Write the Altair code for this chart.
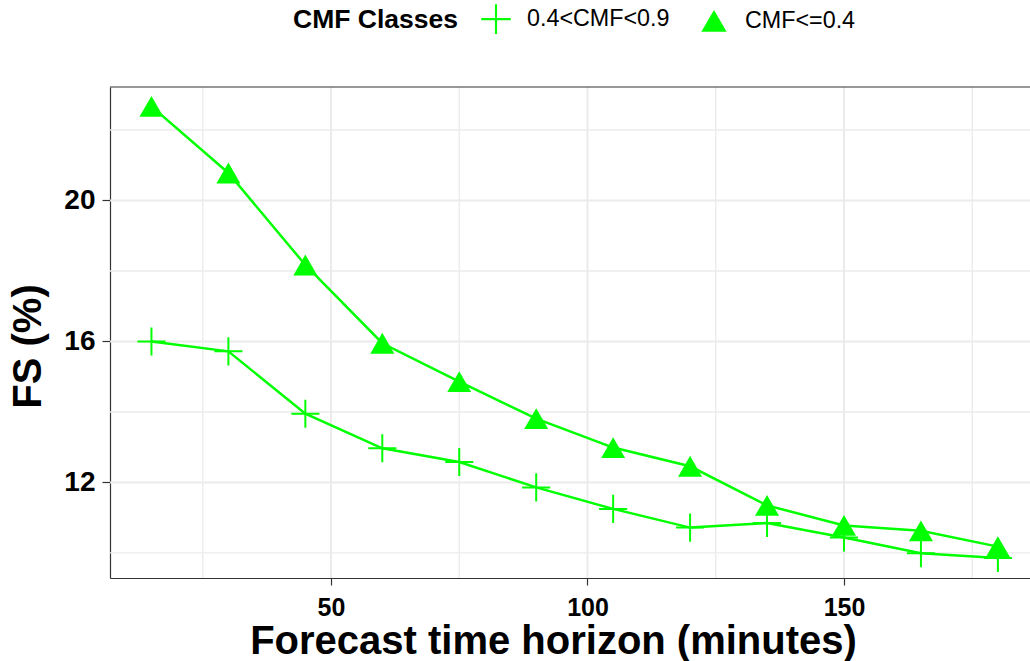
import altair as alt
import pandas as pd

horizons = [15, 30, 45, 60, 75, 90, 105, 120, 135, 150, 165, 180]
fs_mid = [16.0, 15.72, 13.95, 12.97, 12.58, 11.86, 11.25, 10.72, 10.85, 10.44, 9.99, 9.86]
fs_low = [22.67, 20.78, 18.17, 15.95, 14.86, 13.81, 12.99, 12.46, 11.35, 10.78, 10.63, 10.18]
classes = ["0.4<CMF<0.9", "CMF<=0.4"]
x_major = [50, 100, 150]
x_minor = [25, 75, 125, 175]
y_major = [12, 16, 20]
y_minor = [10, 14, 18, 22]

rows = []
for h, v in zip(horizons, fs_mid):
    rows.append({"h": h, "fs": v, "cls": classes[0]})
for h, v in zip(horizons, fs_low):
    rows.append({"h": h, "fs": v, "cls": classes[1]})
df = pd.DataFrame(rows)

XDOM = [6.92, 186.26]
YDOM = [9.29, 23.22]
GREEN = "#00FF00"
GRID = "#EBEBEB"
BORDER = "#333333"
FONT = "Liberation Sans"

xscale = alt.Scale(domain=XDOM, nice=False, zero=False)
yscale = alt.Scale(domain=YDOM, nice=False, zero=False)

# thin plus drawn as a filled outline so that it also shows in the legend
plus_path = "M-1.17,-0.083H1.17V0.083H-1.17Z M-0.083,-1.17H0.083V1.17H-0.083Z"

xgrid_minor = alt.Chart(pd.DataFrame({"v": x_minor})).mark_rule(color=GRID, strokeWidth=1.3).encode(
    x=alt.X("v:Q", scale=xscale))
xgrid_major = alt.Chart(pd.DataFrame({"v": x_major})).mark_rule(color=GRID, strokeWidth=2).encode(
    x=alt.X("v:Q", scale=xscale))
ygrid_minor = alt.Chart(pd.DataFrame({"v": y_minor})).mark_rule(color=GRID, strokeWidth=1.3).encode(
    y=alt.Y("v:Q", scale=yscale))
ygrid_major = alt.Chart(pd.DataFrame({"v": y_major})).mark_rule(color=GRID, strokeWidth=2).encode(
    y=alt.Y("v:Q", scale=yscale))
top_border = alt.Chart().mark_rule(color=BORDER, strokeWidth=1.2).encode(
    y=alt.Y(datum=YDOM[1], scale=yscale))

base = alt.Chart(df)
lines = base.mark_line(color=GREEN, strokeWidth=2.5).encode(
    x=alt.X("h:Q", scale=xscale,
            axis=alt.Axis(values=x_major, title="Forecast time horizon (minutes)", grid=False,
                          domainColor=BORDER, domainWidth=1.2, tickColor=BORDER, tickSize=7, tickWidth=1.2,
                          labelFont=FONT, labelFontSize=25, labelFontWeight="bold", labelColor="black",
                          labelPadding=10,
                          titleFont=FONT, titleFontSize=40, titleFontWeight="bold", titleColor="black",
                          titleX=443, titleY=75, titleBaseline="alphabetic", titleAlign="center")),
    y=alt.Y("fs:Q", scale=yscale,
            axis=alt.Axis(values=y_major, title="FS (%)", grid=False,
                          domainColor=BORDER, domainWidth=1.2, tickColor=BORDER, tickSize=8, tickWidth=1.2,
                          labelFont=FONT, labelFontSize=28, labelFontWeight="bold", labelColor="black",
                          labelPadding=7,
                          titleFont=FONT, titleFontSize=40, titleFontWeight="bold", titleColor="black",
                          titleX=-70, titleY=259, titleAngle=270, titleBaseline="alphabetic",
                          titleAlign="center")),
    detail="cls:N",
)
points = base.mark_point(filled=True, fill=GREEN, strokeWidth=0, size=576, opacity=1).encode(
    x=alt.X("h:Q", scale=xscale),
    y=alt.Y("fs:Q", scale=yscale),
    shape=alt.Shape("cls:N", scale=alt.Scale(domain=classes, range=[plus_path, "triangle-up"]),
                    legend=alt.Legend(title="CMF Classes", orient="none", legendX=183, legendY=-81,
                                      direction="horizontal", titleOrient="left",
                                      titleFont=FONT, titleFontSize=26.5, titleFontWeight="bold",
                                      titleColor="black", titlePadding=25,
                                      labelFont=FONT, labelFontSize=23.3, labelColor="black",
                                      labelOffset=18, columnPadding=31, symbolSize=640,
                                      symbolFillColor=GREEN, symbolStrokeWidth=0, symbolOpacity=1)),
)

chart = alt.layer(xgrid_minor, xgrid_major, ygrid_minor, ygrid_major, top_border, lines, points).properties(
    width=920, height=491,
    autosize=alt.AutoSizeParams(type="none"),
    padding={"left": 110, "top": 87, "right": 0, "bottom": 83},
    background="white",
).configure_view(stroke=None)

chart.save("out.html", embed_options={"renderer": "svg", "actions": False})
